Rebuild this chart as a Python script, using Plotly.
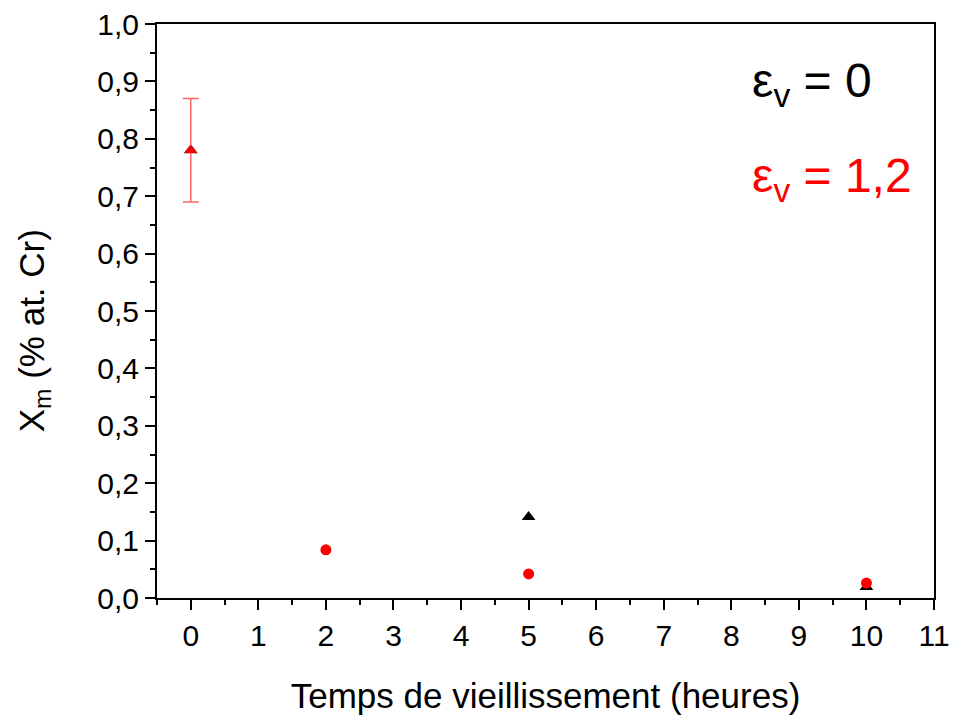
import plotly.graph_objects as go

# eps_v = 0 series
t0 = [0, 5, 10]
xm0 = [0.78, 0.141, 0.019]

# eps_v = 1,2 series (first point: triangle with error bar)
t1 = [0, 2, 5, 10]
xm1 = [0.78, 0.084, 0.042, 0.026]
err1 = [0.09]

xticks = list(range(0, 12))
yticks = [i / 10 for i in range(0, 11)]

fig = go.Figure()
fig.add_trace(go.Scatter(
    x=t0, y=xm0, mode="markers",
    marker=dict(symbol="triangle-up", size=12, color="black"),
    name="εv = 0"
))
fig.add_trace(go.Scatter(
    x=t1[:1], y=xm1[:1], mode="markers",
    marker=dict(symbol="triangle-up", size=11, color="red"),
    error_y=dict(type="data", array=err1, visible=True, color="#ff6666", thickness=1.5, width=8),
    name="εv = 1,2"
))
fig.add_trace(go.Scatter(
    x=t1[1:], y=xm1[1:], mode="markers",
    marker=dict(symbol="circle", size=11, color="red"),
    name="εv = 1,2"
))

font = "Liberation Sans, Arial, sans-serif"
fig.update_layout(
    width=953, height=722,
    margin=dict(l=157, r=19, t=24, b=124, autoexpand=False),
    plot_bgcolor="white", paper_bgcolor="white",
    showlegend=False,
    font=dict(family=font, size=30, color="black"),
    xaxis=dict(
        range=[-0.5, 11], tickvals=xticks, ticktext=[str(v) for v in xticks],
        tickfont=dict(size=30, family=font),
        ticks="outside", ticklen=10, tickwidth=2, tickcolor="black",
        minor=dict(tickvals=[v + 0.5 for v in range(-1, 11)], ticks="outside", ticklen=5, tickwidth=2, tickcolor="black"),
        showline=True, linecolor="black", linewidth=2, mirror=True,
        showgrid=False, zeroline=False, automargin=False,
        title=dict(text="Temps de vieillissement (heures)", standoff=32, font=dict(size=35, family=font)),
    ),
    yaxis=dict(
        range=[0, 1.0], tickvals=yticks, ticktext=[f"{v:.1f}".replace(".", ",") for v in yticks],
        tickfont=dict(size=30, family=font),
        ticks="outside", ticklen=10, tickwidth=2, tickcolor="black",
        minor=dict(tickvals=[v / 100 for v in range(5, 100, 10)], ticks="outside", ticklen=5, tickwidth=2, tickcolor="black"),
        showline=True, linecolor="black", linewidth=2, mirror=True,
        showgrid=False, zeroline=False, automargin=False,
    ),
)

# y-axis title, placed as in the original (slightly below centre)
fig.add_annotation(xref="paper", yref="paper", x=-0.158, y=0.465, xanchor="center", yanchor="middle",
                   textangle=-90, text="X<sub>m</sub> (% at. Cr)", showarrow=False,
                   font=dict(size=35, color="black", family=font))

fig.add_annotation(xref="paper", yref="paper", x=0.763, y=0.895, xanchor="left", yanchor="middle",
                   text="ε<sub>v</sub> = 0", showarrow=False, font=dict(size=48, color="black", family=font))
fig.add_annotation(xref="paper", yref="paper", x=0.763, y=0.73, xanchor="left", yanchor="middle",
                   text="ε<sub>v</sub> = 1,2", showarrow=False, font=dict(size=48, color="red", family=font))

fig.write_html("out.html", config={"displayModeBar": False},
               post_script="document.body.style.margin='0';")
